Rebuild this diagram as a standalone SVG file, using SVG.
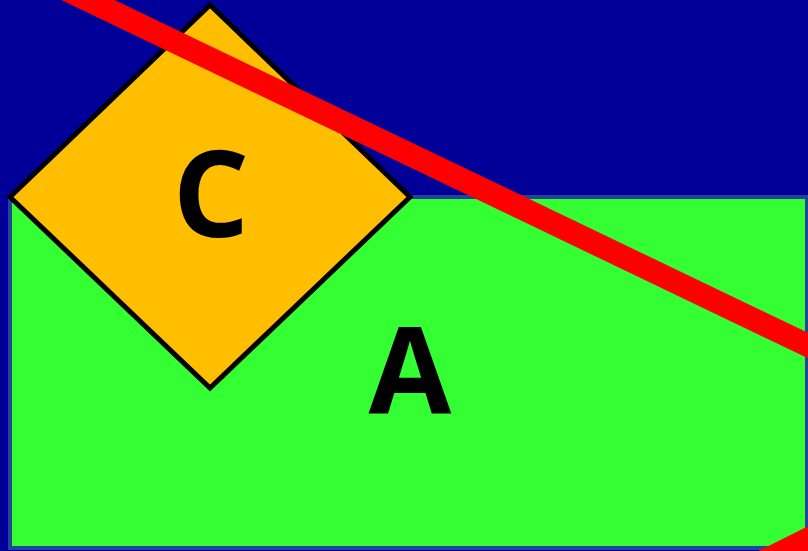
<svg xmlns="http://www.w3.org/2000/svg" width="808" height="551" viewBox="0 0 808 551">
<style>
.lbl{font-family:"Open Sans","Liberation Sans",Arial,sans-serif;font-weight:bold;font-size:120px;fill:#000;text-anchor:middle}
.edge{stroke:#ff0000;stroke-width:23;fill:none}
</style>
<rect x="0" y="0" width="808" height="551" fill="#000099"/>
<g id="A">
<rect x="10" y="197" width="797" height="351" fill="#33ff33" stroke="#22449a" stroke-width="4"/>
<text class="lbl" x="410" y="413">A</text>
</g>
<g id="C">
<polygon points="210,5 410,197 210,388 10,197" fill="#ffbf00" stroke="#000" stroke-width="5"/>
<text class="lbl" x="211" y="237">C</text>
</g>
<g id="connectors">
<line class="edge" x1="50" y1="-18.2" x2="840" y2="360.9"/>
<line class="edge" x1="740" y1="573" x2="840" y2="523"/>
</g>
</svg>
